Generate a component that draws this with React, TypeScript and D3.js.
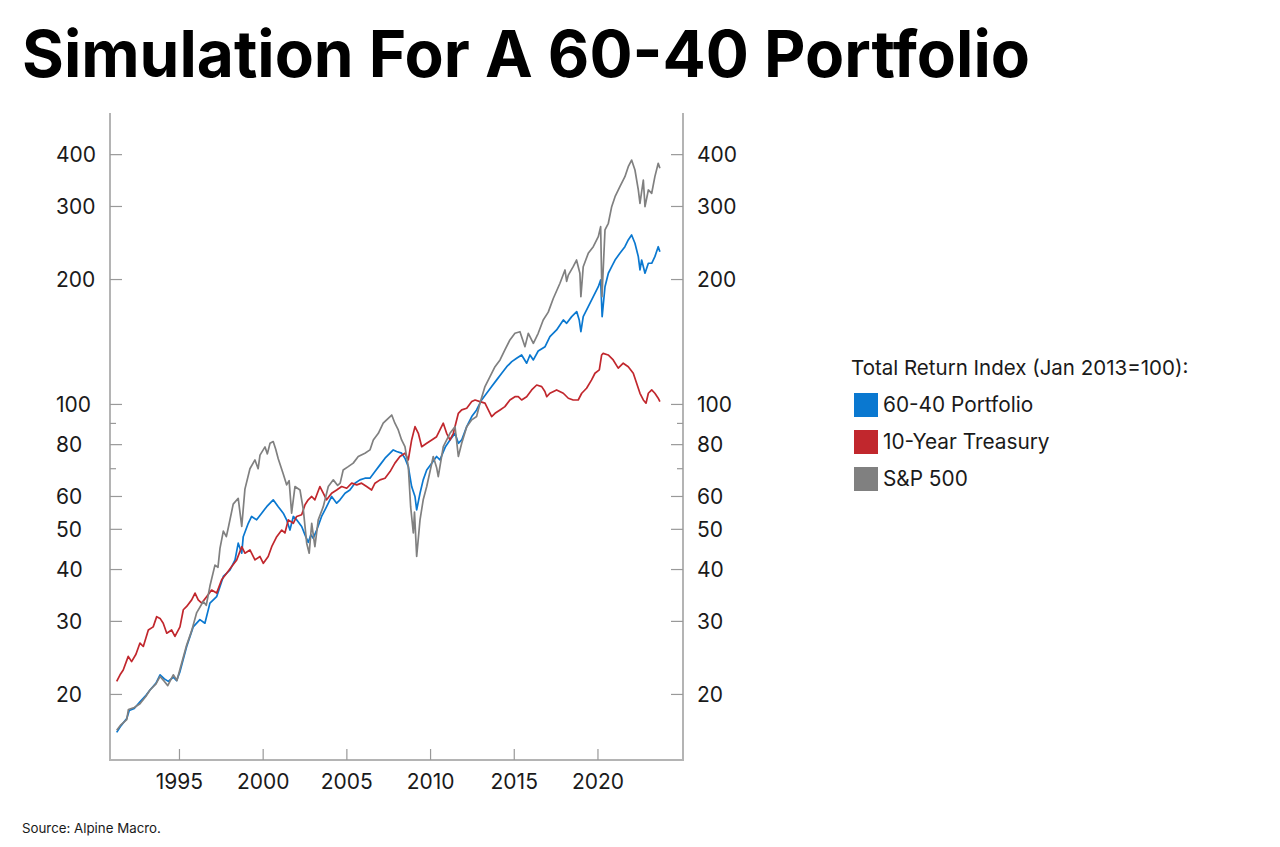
import React from "react";
import * as d3 from "d3";

const sp500: [number, number][] = [
  [1991.25,16.4],[1991.5,16.9],[1991.85,17.4],[1991.95,18.4],[1992.3,18.6],[1992.64,19.0],[1993.0,19.8],[1993.24,20.5],[1993.6,21.2],[1993.84,22.1],[1994.1,21.5],[1994.3,21.0],[1994.63,22.3],[1994.85,21.6],[1995.03,23.0],[1995.43,26.3],[1995.73,28.5],[1996.03,31.5],[1996.42,33.5],[1996.6,32.8],[1996.82,36.5],[1997.12,41.0],[1997.3,40.5],[1997.42,45.0],[1997.62,49.5],[1997.8,48.0],[1997.92,50.5],[1998.21,57.5],[1998.51,59.4],[1998.72,50.8],[1998.91,62.5],[1999.21,70.0],[1999.51,73.5],[1999.7,70.0],[1999.81,75.5],[2000.11,79.0],[2000.25,76.0],[2000.41,80.6],[2000.6,81.4],[2000.75,78.0],[2000.9,74.0],[2001.2,68.0],[2001.4,64.0],[2001.55,65.5],[2001.7,54.7],[2001.9,63.4],[2002.2,62.2],[2002.4,55.7],[2002.6,46.3],[2002.75,43.8],[2002.9,51.7],[2003.09,45.4],[2003.29,52.7],[2003.59,56.7],[2003.89,63.4],[2004.19,65.8],[2004.45,63.8],[2004.6,64.6],[2004.78,69.5],[2005.08,70.8],[2005.38,72.2],[2005.68,74.9],[2006.08,76.3],[2006.38,77.7],[2006.58,82.1],[2006.88,85.2],[2007.17,90.1],[2007.47,92.6],[2007.68,94.3],[2007.87,90.1],[2008.07,86.8],[2008.27,82.1],[2008.47,79.1],[2008.67,70.8],[2008.81,56.7],[2008.97,49.0],[2009.04,55.0],[2009.17,43.0],[2009.37,52.7],[2009.56,58.9],[2009.77,63.4],[2010.16,74.9],[2010.36,70.5],[2010.46,67.0],[2010.76,79.1],[2011.16,85.2],[2011.46,88.4],[2011.66,74.9],[2011.86,80.6],[2012.16,88.4],[2012.46,91.8],[2012.75,93.5],[2012.95,100.7],[2013.25,110.4],[2013.55,116.7],[2013.85,123.3],[2014.15,128.0],[2014.44,135.3],[2014.74,143.0],[2015.04,148.4],[2015.34,149.7],[2015.64,137.8],[2015.84,148.4],[2016.14,140.4],[2016.43,148.4],[2016.73,159.8],[2017.03,166.9],[2017.33,180.0],[2017.73,195.9],[2018.03,210.9],[2018.13,198.0],[2018.23,205.0],[2018.52,214.8],[2018.72,222.9],[2018.92,207.1],[2018.98,181.9],[2019.12,214.8],[2019.42,231.3],[2019.72,240.0],[2020.02,253.7],[2020.16,268.2],[2020.24,181.9],[2020.42,263.3],[2020.62,273.3],[2020.82,299.7],[2021.02,316.8],[2021.31,334.9],[2021.61,354.0],[2021.81,374.1],[2022.01,388.2],[2022.21,367.3],[2022.41,328.8],[2022.51,305.3],[2022.71,347.5],[2022.81,299.7],[2023.01,328.8],[2023.21,322.8],[2023.4,354.0],[2023.6,381.2],[2023.7,370.9]
];

const portfolio: [number, number][] = [
  [1991.25,16.2],[1991.5,16.8],[1991.85,17.5],[1992.0,18.3],[1992.3,18.5],[1992.64,19.2],[1993.0,19.9],[1993.24,20.5],[1993.6,21.3],[1993.84,22.3],[1994.1,21.8],[1994.33,21.5],[1994.63,22.0],[1994.83,21.6],[1995.03,22.7],[1995.43,26.1],[1995.82,29.1],[1996.22,30.3],[1996.52,29.7],[1996.82,33.2],[1997.22,34.4],[1997.62,38.5],[1998.02,39.9],[1998.32,42.2],[1998.51,46.3],[1998.72,43.8],[1998.81,48.0],[1999.11,51.7],[1999.31,53.7],[1999.61,52.7],[1999.91,54.7],[2000.21,56.7],[2000.6,58.9],[2000.9,56.7],[2001.2,54.7],[2001.4,52.7],[2001.6,49.8],[2001.8,53.7],[2002.0,52.7],[2002.3,50.8],[2002.5,48.5],[2002.69,46.5],[2002.85,48.5],[2002.99,47.6],[2003.2,49.8],[2003.49,53.7],[2003.79,56.7],[2004.09,60.0],[2004.39,57.8],[2004.59,58.9],[2004.89,61.1],[2005.18,62.2],[2005.48,64.6],[2005.78,65.8],[2006.08,66.4],[2006.38,66.4],[2006.68,68.9],[2006.98,71.5],[2007.28,74.2],[2007.58,76.3],[2007.77,77.7],[2007.97,77.0],[2008.27,76.3],[2008.47,74.2],[2008.67,70.8],[2008.87,63.4],[2009.07,60.0],[2009.17,55.7],[2009.37,61.1],[2009.56,65.8],[2009.77,69.5],[2010.07,72.2],[2010.36,74.9],[2010.56,73.5],[2010.89,79.1],[2011.16,82.1],[2011.46,85.2],[2011.66,80.6],[2011.86,82.1],[2012.16,88.4],[2012.46,93.5],[2012.75,97.0],[2013.05,102.5],[2013.35,106.4],[2013.65,110.4],[2013.95,114.6],[2014.25,118.9],[2014.55,123.3],[2014.85,126.8],[2015.14,129.2],[2015.44,131.6],[2015.74,125.7],[2015.94,131.6],[2016.14,128.0],[2016.43,134.5],[2016.84,137.8],[2017.13,145.7],[2017.53,151.2],[2017.93,159.8],[2018.13,156.9],[2018.43,162.8],[2018.73,167.4],[2018.88,159.8],[2018.98,149.7],[2019.12,162.8],[2019.42,172.1],[2019.72,181.9],[2020.02,192.2],[2020.16,199.5],[2020.25,162.8],[2020.42,192.2],[2020.62,207.1],[2020.82,214.8],[2021.02,222.9],[2021.31,231.4],[2021.61,240.0],[2021.81,249.1],[2022.01,256.1],[2022.21,244.6],[2022.41,227.1],[2022.51,210.9],[2022.61,222.9],[2022.81,207.1],[2023.01,218.9],[2023.21,218.9],[2023.4,227.1],[2023.6,240.0],[2023.7,233.4]
];

const treasury: [number, number][] = [
  [1991.25,21.5],[1991.45,22.3],[1991.64,22.9],[1991.94,24.7],[1992.14,24.0],[1992.4,25.0],[1992.64,26.6],[1992.84,26.1],[1993.14,28.6],[1993.43,29.1],[1993.64,30.8],[1993.84,30.5],[1994.03,29.7],[1994.24,28.1],[1994.53,28.6],[1994.73,27.6],[1995.03,29.1],[1995.23,32.0],[1995.43,32.6],[1995.73,33.8],[1995.93,35.1],[1996.12,33.8],[1996.33,33.2],[1996.62,34.4],[1996.92,35.7],[1997.22,35.1],[1997.52,37.8],[1997.82,39.2],[1998.12,40.7],[1998.42,42.2],[1998.72,45.4],[1998.91,43.8],[1999.21,44.6],[1999.51,42.2],[1999.81,43.0],[2000.01,41.4],[2000.3,43.0],[2000.51,45.4],[2000.81,48.0],[2001.11,49.8],[2001.3,49.0],[2001.5,52.7],[2001.8,51.7],[2002.0,53.7],[2002.3,54.2],[2002.5,57.3],[2002.69,58.9],[2002.9,60.0],[2003.09,58.9],[2003.39,63.4],[2003.59,61.1],[2003.79,58.9],[2004.09,61.1],[2004.39,62.2],[2004.69,63.4],[2004.99,62.8],[2005.29,64.6],[2005.59,64.0],[2005.88,64.6],[2006.18,63.4],[2006.48,62.2],[2006.68,64.6],[2006.98,65.8],[2007.28,66.4],[2007.58,68.9],[2007.87,72.2],[2008.17,74.9],[2008.47,76.3],[2008.67,73.5],[2008.87,82.1],[2009.07,88.4],[2009.27,85.2],[2009.47,79.1],[2009.77,80.6],[2010.07,82.1],[2010.36,83.6],[2010.56,86.8],[2010.76,90.1],[2010.96,85.2],[2011.16,82.1],[2011.36,85.2],[2011.66,95.2],[2011.86,97.0],[2012.16,97.9],[2012.46,101.6],[2012.66,102.5],[2012.95,101.6],[2013.25,100.7],[2013.45,97.0],[2013.65,93.5],[2013.85,95.2],[2014.15,97.0],[2014.44,98.8],[2014.74,102.5],[2015.04,104.4],[2015.24,104.4],[2015.44,102.5],[2015.74,104.4],[2016.04,108.4],[2016.34,111.4],[2016.64,110.4],[2016.83,107.4],[2016.94,104.4],[2017.13,106.4],[2017.53,108.4],[2017.93,106.4],[2018.23,103.5],[2018.52,102.5],[2018.82,102.5],[2019.03,106.4],[2019.32,109.4],[2019.62,114.6],[2019.82,118.9],[2020.08,121.1],[2020.22,131.6],[2020.31,132.8],[2020.61,131.6],[2020.91,128.0],[2021.21,122.3],[2021.51,125.7],[2021.81,123.3],[2022.11,118.9],[2022.31,112.5],[2022.51,106.4],[2022.71,102.5],[2022.87,100.7],[2023.01,106.4],[2023.21,108.4],[2023.4,106.4],[2023.6,103.5],[2023.7,101.6]
];

const xTicks = [1995, 2000, 2005, 2010, 2015, 2020];
const yMajorTicks = [20, 30, 40, 50, 60, 80, 100, 200, 300, 400];
const yMinorTicks = [70, 90];

const seriesNames = ["60-40 Portfolio", "10-Year Treasury", "S&P 500"];
const seriesColors = ["#0a78d0", "#c1272d", "#808080"];

const legendTitle = "Total Return Index (Jan 2013=100):";
const titleText = "Simulation For A 60-40 Portfolio";
const sourceText = "Source: Alpine Macro.";

export default function App() {
  const left = 110, right = 683, top = 113, bottom = 760;
  const x = d3.scaleLinear().domain([1990.85, 2025.08]).range([left, right]);
  const y = d3.scaleLog().domain([13.9, 504]).range([bottom, top]);
  const line = d3.line<[number, number]>().x(d => x(d[0])).y(d => y(d[1]));
  const data = [portfolio, treasury, sp500];
  const axisColor = "#b4b4b4";
  const tickColor = "#999";
  const font = "Inter, 'Liberation Sans', sans-serif";
  const tickSize = 21;

  return (
    <svg width={1280} height={847} style={{ position: "absolute", left: 0, top: 0, background: "#fff" }}>
      <text x={22} y={77} fontFamily={font} fontWeight={700} fontSize={65} fill="#000"
        textLength={1008} lengthAdjust="spacingAndGlyphs">{titleText}</text>

      <line x1={left} x2={left} y1={top} y2={bottom + 1} stroke={axisColor} strokeWidth={2} />
      <line x1={right} x2={right} y1={top} y2={bottom + 1} stroke={axisColor} strokeWidth={2} />
      <line x1={left} x2={right} y1={bottom} y2={bottom} stroke={axisColor} strokeWidth={2} />

      {yMajorTicks.map(v => (
        <g key={"yt" + v}>
          <line x1={left} x2={left + 12} y1={y(v)} y2={y(v)} stroke={tickColor} strokeWidth={1.2} />
          <line x1={right - 12} x2={right} y1={y(v)} y2={y(v)} stroke={tickColor} strokeWidth={1.2} />
          <text x={56} y={y(v)} dy="0.36em" fontFamily={font} fontSize={tickSize} fill="#1a1a1a">{v}</text>
          <text x={697} y={y(v)} dy="0.36em" fontFamily={font} fontSize={tickSize} fill="#1a1a1a">{v}</text>
        </g>
      ))}
      {yMinorTicks.map(v => (
        <g key={"ym" + v}>
          <line x1={left} x2={left + 6} y1={y(v)} y2={y(v)} stroke={tickColor} strokeWidth={1.2} />
          <line x1={right - 6} x2={right} y1={y(v)} y2={y(v)} stroke={tickColor} strokeWidth={1.2} />
        </g>
      ))}
      {xTicks.map(t => (
        <g key={"xt" + t}>
          <line x1={x(t)} x2={x(t)} y1={bottom} y2={bottom - 11} stroke={tickColor} strokeWidth={1.2} />
          <text x={x(t)} y={781} dy="0.36em" textAnchor="middle" fontFamily={font} fontSize={tickSize} fill="#1a1a1a">{t}</text>
        </g>
      ))}

      {data.map((d, i) => (
        <path key={"s" + i} d={line(d) || ""} fill="none" stroke={seriesColors[i]} strokeWidth={1.7} strokeLinejoin="round" />
      ))}

      <text x={851} y={368} dy="0.36em" fontFamily={font} fontSize={20.5} fill="#1a1a1a">{legendTitle}</text>
      {seriesNames.map((n, i) => (
        <g key={"lg" + i}>
          <rect x={854} y={393 + i * 37} width={24} height={24} fill={seriesColors[i]} />
          <text x={883} y={405 + i * 37} dy="0.36em" fontFamily={font} fontSize={20.8} fill="#1a1a1a">{n}</text>
        </g>
      ))}

      <text x={22} y={828} dy="0.36em" fontFamily={font} fontSize={13.3} fill="#1a1a1a">{sourceText}</text>
    </svg>
  );
}
